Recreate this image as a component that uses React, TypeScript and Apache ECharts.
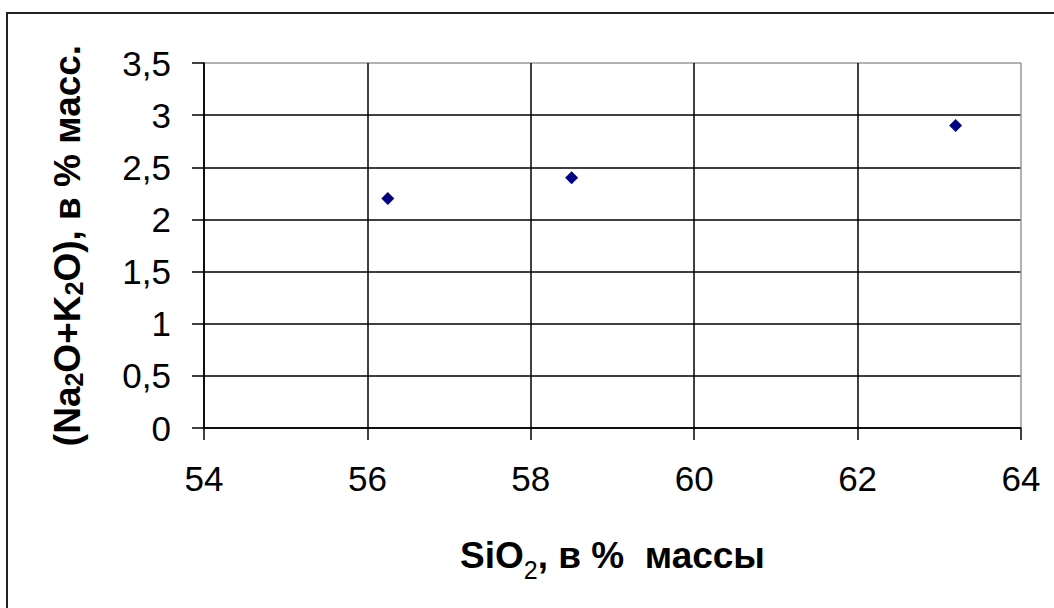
import React, { useEffect, useRef } from "react";
import * as echarts from "echarts";

const sio2: number[] = [56.25, 58.5, 63.2];
const alkali: number[] = [2.2, 2.4, 2.9];
const xTicks = { min: 54, max: 64, interval: 2 };
const yTicks = { min: 0, max: 3.5, interval: 0.5 };

export default function App() {
  const ref = useRef<HTMLDivElement>(null);
  useEffect(() => {
    const chart = echarts.init(ref.current!, null, { renderer: "svg" });
    const font = "'Liberation Sans', Arial, sans-serif";
    chart.setOption({
      animation: false,
      backgroundColor: "#fff",
      grid: { left: 204, right: 33, top: 63, bottom: 180, show: false },
      graphic: [
        {
          type: "rect",
          shape: { x: 7, y: 13, width: 1100, height: 700 },
          style: { fill: "none", stroke: "#222", lineWidth: 2 },
          silent: true,
        },
      ],
      xAxis: {
        type: "value",
        min: xTicks.min,
        max: xTicks.max,
        interval: xTicks.interval,
        axisLine: { show: true, lineStyle: { color: "#000", width: 1.5 } },
        axisTick: { show: true, length: 12, lineStyle: { color: "#000", width: 1.5 } },
        axisLabel: { margin: 33, fontSize: 35, color: "#000", fontFamily: font },
        splitLine: {
          show: true,
          lineStyle: { color: ["#000", "#000", "#000", "#000", "#000", "#999"], width: 1.5 },
        },
        name: "{b|SiO}{s|2}{b|, в %  массы}",
        nameLocation: "middle",
        nameGap: 102,
        nameTextStyle: {
          rich: {
            b: { fontSize: 37, fontWeight: "bold", color: "#000", fontFamily: font, lineHeight: 44, verticalAlign: "bottom" },
            s: { fontSize: 25, color: "#000", fontFamily: font, lineHeight: 44, verticalAlign: "bottom", padding: [0, 0, -8, 0] },
          },
        },
      },
      yAxis: {
        type: "value",
        min: yTicks.min,
        max: yTicks.max,
        interval: yTicks.interval,
        axisLine: { show: true, lineStyle: { color: "#000", width: 1.5 } },
        axisTick: { show: true, length: 12, lineStyle: { color: "#000", width: 1.5 } },
        axisLabel: {
          margin: 33,
          fontSize: 35,
          color: "#000",
          fontFamily: font,
          formatter: (v: number) => String(v).replace(".", ","),
        },
        splitLine: {
          show: true,
          lineStyle: { color: ["#000", "#000", "#000", "#000", "#000", "#000", "#000", "#999"], width: 1.5 },
        },
        name: "{b|(Na}{s|2}{b|O+K}{s|2}{b|O), в % масс.}",
        nameLocation: "middle",
        nameGap: 118,
        nameTextStyle: {
          rich: {
            b: { fontSize: 37, fontWeight: "bold", color: "#000", fontFamily: font, lineHeight: 44, verticalAlign: "bottom" },
            s: { fontSize: 25, fontWeight: "bold", color: "#000", fontFamily: font, lineHeight: 44, verticalAlign: "bottom" },
          },
        },
      },
      series: [
        {
          type: "scatter",
          data: sio2.map((x, i) => [x, alkali[i]]),
          symbol: "diamond",
          symbolSize: 13,
          itemStyle: { color: "#000080", opacity: 1 },
        },
      ],
    });
    return () => chart.dispose();
  }, []);
  return (
    <div
      ref={ref}
      style={{ position: "fixed", left: 0, top: 0, width: 1054, height: 608, background: "#fff" }}
    />
  );
}
